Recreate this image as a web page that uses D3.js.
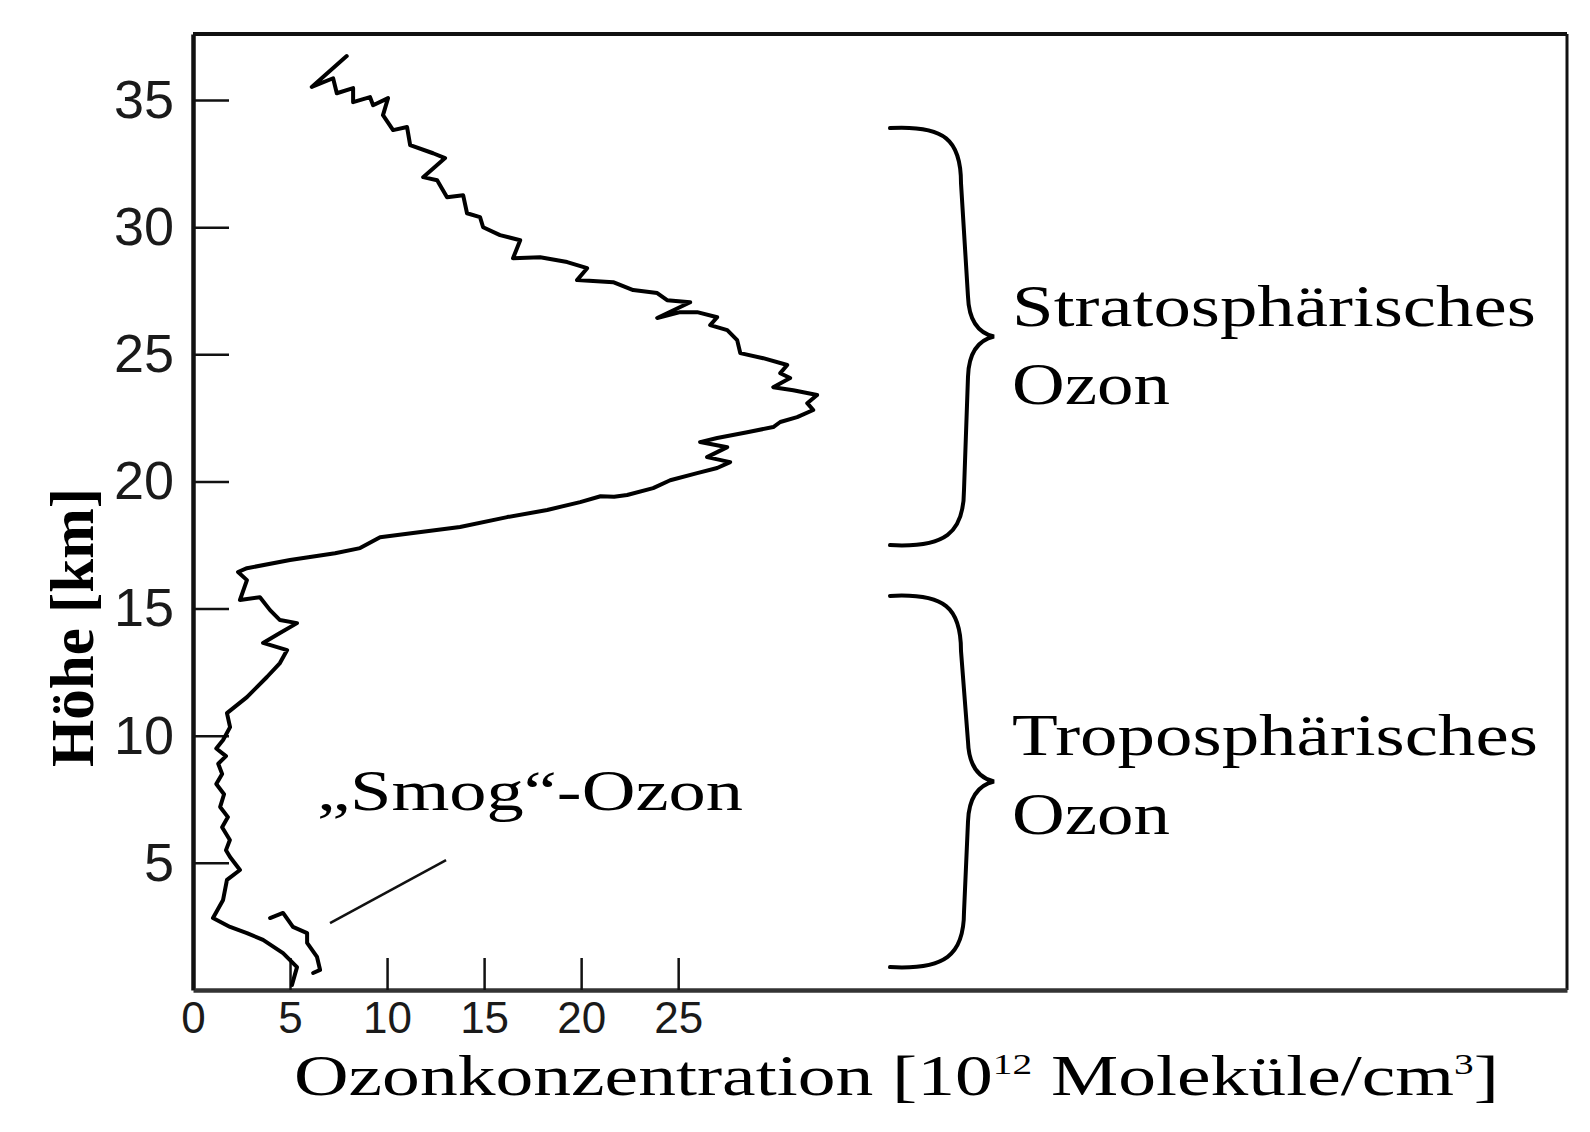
<!DOCTYPE html>
<html><head><meta charset="utf-8">
<script src="https://cdn.jsdelivr.net/npm/d3@7"></script>
<style>html,body{margin:0;padding:0;background:#fff;}svg{display:block;}</style>
</head><body>
<svg id="chart" width="1590" height="1132"></svg>
<script>
// ---- data ----
const xTicks = [0, 5, 10, 15, 20, 25];
const yTicks = [5, 10, 15, 20, 25, 30, 35];
// [concentration (1e12 molecules/cm3), height (km)]
const profile = [[7.92,36.73],[6.12,35.52],[7.22,35.86],[7.41,35.27],[8.25,35.47],[8.25,34.92],[9.12,35.12],[9.28,34.80],[10.05,35.08],[9.79,34.41],[10.31,33.82],[11.03,33.94],[11.19,33.23],[12.37,32.91],[12.99,32.72],[11.86,31.97],[12.58,31.85],[13.09,31.18],[13.92,31.26],[14.12,30.55],[14.79,30.40],[14.95,30.00],[15.82,29.69],[16.86,29.49],[16.49,28.78],[17.89,28.82],[19.28,28.63],[20.31,28.39],[19.79,27.92],[21.65,27.84],[22.68,27.53],[23.92,27.41],[24.43,27.13],[25.62,27.05],[23.92,26.43],[25.10,26.66],[25.98,26.66],[27.01,26.46],[26.65,26.15],[27.53,25.95],[28.04,25.56],[28.20,25.05],[29.38,24.85],[30.62,24.58],[30.26,24.26],[30.77,24.07],[29.90,23.71],[30.93,23.59],[32.16,23.40],[31.65,23.08],[31.96,22.81],[31.13,22.53],[30.26,22.34],[29.90,22.14],[28.56,21.94],[27.01,21.71],[26.13,21.55],[27.53,21.35],[26.49,20.96],[27.68,20.76],[27.01,20.53],[25.98,20.33],[24.59,20.05],[23.71,19.74],[22.37,19.47],[21.70,19.40],[21.00,19.42],[19.95,19.19],[18.25,18.88],[16.19,18.60],[13.76,18.21],[11.34,17.97],[9.64,17.81],[8.61,17.38],[7.32,17.18],[5.00,16.91],[2.78,16.59],[2.32,16.44],[2.78,16.12],[2.42,15.34],[3.45,15.45],[3.97,14.94],[4.48,14.55],[5.36,14.43],[4.48,14.04],[3.61,13.65],[4.85,13.37],[4.48,12.86],[3.81,12.31],[2.78,11.52],[1.75,10.89],[1.91,10.34],[1.55,9.83],[1.2,9.5],[1.7,9.2],[1.3,8.9],[1.5,8.5],[1.2,8.1],[1.6,7.7],[1.4,7.2],[1.8,6.8],[1.5,6.4],[1.9,5.9],[1.7,5.5],[1.91,5.23],[2.42,4.72],[1.75,4.33],[1.55,3.54],[1.03,2.83],[1.91,2.48],[2.78,2.24],[3.61,1.97],[4.64,1.45],[5.36,0.90],[5.10,0.20]];
const smog = [[3.97,2.83],[4.64,3.03],[5.15,2.48],[5.88,2.24],[5.88,1.85],[6.39,1.30],[6.55,0.79],[6.19,0.67]];
const smogLeader = [[7.06,2.63],[13.04,5.11]];
const layers = [
  {name: ["Stratosphärisches", "Ozon"], range: [17.5, 33.9]},
  {name: ["Troposphärisches", "Ozon"], range: [0.9, 15.5]}
];

// ---- layout ----
const svg = d3.select("#chart");
const L = 193, R = 1567, T = 34, B = 990;
const x = d3.scaleLinear().domain([0, 70.8]).range([L, R]);
const y = d3.scaleLinear().domain([0, 37.6]).range([B, T]);
const serif = "'Liberation Serif','Times New Roman',serif";
const sans = "'Liberation Sans',Arial,sans-serif";

// frame top / right
svg.append("line").attr("x1", L).attr("x2", R).attr("y1", T).attr("y2", T)
  .attr("stroke", "#111").attr("stroke-width", 4);
svg.append("line").attr("x1", R).attr("x2", R).attr("y1", T).attr("y2", B)
  .attr("stroke", "#111").attr("stroke-width", 3);

// axes
const yAxis = d3.axisLeft(y).tickValues(yTicks).tickSizeInner(-36).tickSizeOuter(0).tickPadding(19);
const gy = svg.append("g").attr("transform", `translate(${L},0)`).call(yAxis);
gy.select(".domain").attr("stroke", "#111").attr("stroke-width", 4.5);
gy.selectAll(".tick line").attr("stroke", "#111").attr("stroke-width", 2.5);
gy.selectAll(".tick text").attr("font-family", sans).attr("font-size", 54).attr("fill", "#1a1a1a");

const xAxis = d3.axisBottom(x).tickValues(xTicks).tickSizeInner(-32).tickSizeOuter(0).tickPadding(12);
const gx = svg.append("g").attr("transform", `translate(0,${B})`).call(xAxis);
gx.select(".domain").attr("stroke", "#333").attr("stroke-width", 4.5);
gx.selectAll(".tick line").attr("stroke", "#111").attr("stroke-width", 2.5);
gx.selectAll(".tick text").attr("font-family", sans).attr("font-size", 44).attr("fill", "#1a1a1a");

// profile lines
const line = d3.line().x(d => x(d[0])).y(d => y(d[1]));
svg.append("path").datum(profile).attr("d", line)
  .attr("fill", "none").attr("stroke", "#000").attr("stroke-width", 4)
  .attr("stroke-linejoin", "round").attr("stroke-linecap", "round");
svg.append("path").datum(smog).attr("d", line)
  .attr("fill", "none").attr("stroke", "#000").attr("stroke-width", 4)
  .attr("stroke-linejoin", "round").attr("stroke-linecap", "round");
svg.append("path").datum(smogLeader).attr("d", line)
  .attr("fill", "none").attr("stroke", "#111").attr("stroke-width", 2.5);

// text fitting helper
function fitText(x0, y0, target, str, opts, rotate) {
  const g = svg.append("g");
  const t = g.append("text").attr("x", 0).attr("y", 0)
    .attr("font-family", opts.family || serif).attr("font-size", opts.size)
    .attr("font-weight", opts.weight || "normal").attr("fill", "#000");
  if (typeof str === "string") t.text(str);
  else str.forEach(p => {
    const ts = t.append("tspan").text(p.t);
    if (p.sup) ts.attr("font-size", opts.size * 0.52).attr("dy", -opts.size * 0.36);
    if (p.down) ts.attr("dy", opts.size * 0.36);
  });
  const w = t.node().getBBox().width;
  const s = target / w;
  g.attr("transform", `translate(${x0},${y0})` + (rotate ? ` rotate(${rotate})` : "") + ` scale(${s},1)`);
  return g;
}

// smog label
fitText(317, 810, 426, "\u201ESmog\u201C-Ozon", {size: 57});

// braces and layer labels
const braceX0 = 890, braceX1 = 961, braceTip = 994;
layers.forEach((ly, i) => {
  const yTop = y(ly.range[1]), yBot = y(ly.range[0]), yMid = (yTop + yBot) / 2;
  const p = d3.path();
  p.moveTo(braceX0, yTop);
  p.bezierCurveTo(braceX0 + 55, yTop - 3, braceX1, yTop + 12, braceX1, yTop + 55);
  p.lineTo(braceX1 + 7, yMid - 40);
  p.bezierCurveTo(braceX1 + 8, yMid - 12, braceX1 + 20, yMid - 3, braceTip, yMid);
  p.bezierCurveTo(braceX1 + 20, yMid + 3, braceX1 + 8, yMid + 12, braceX1 + 7, yMid + 40);
  p.lineTo(braceX1 + 3, yBot - 55);
  p.bezierCurveTo(braceX1 + 3, yBot - 12, braceX0 + 55, yBot + 3, braceX0, yBot);
  svg.append("path").attr("d", p.toString()).attr("fill", "none")
    .attr("stroke", "#000").attr("stroke-width", 4).attr("stroke-linecap", "round");
  const base1 = i === 0 ? 326 : 755, base2 = i === 0 ? 404 : 834;
  fitText(1012, base1, i === 0 ? 524 : 526, ly.name[0], {size: 59});
  fitText(1012, base2, 158, ly.name[1], {size: 59});
});

// axis titles
fitText(294, 1095, 1205, [
  {t: "Ozonkonzentration [10"}, {t: "12", sup: true}, {t: " Moleküle/cm", down: true},
  {t: "3", sup: true}, {t: "]", down: true}
], {size: 58});
fitText(93, 767, 279, "Höhe [km]", {size: 62, weight: "bold"}, -90);
</script>
</body></html>
